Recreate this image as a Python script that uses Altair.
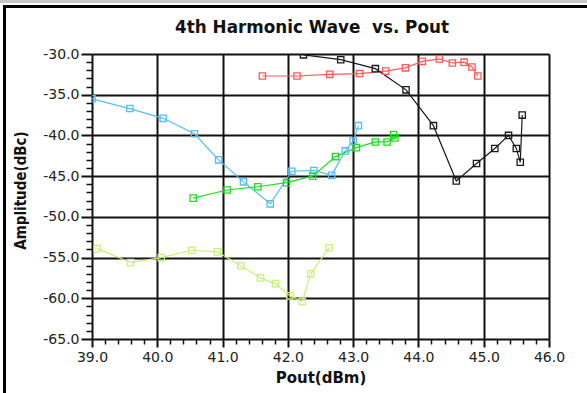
import altair as alt
import pandas as pd

# ---- data ----
series_names = ["blue", "green", "yellow", "red", "black"]
series_colors = ["#55BDF2", "#1FDD1F", "#C8F07A", "#FF5A5A", "#1A1A1A"]

blue_x = [39.0, 39.58, 40.09, 40.57, 40.94, 41.32, 41.73, 42.06, 42.40, 42.67, 42.88, 43.00, 43.08]
blue_y = [-35.5, -36.7, -37.9, -39.8, -43.0, -45.7, -48.4, -44.4, -44.3, -44.9, -41.9, -40.7, -38.8]

green_x = [40.55, 41.07, 41.54, 41.98, 42.38, 42.73, 43.05, 43.34, 43.52, 43.64, 43.62]
green_y = [-47.7, -46.7, -46.3, -45.8, -45.0, -42.6, -41.5, -40.8, -40.8, -40.3, -39.9]

yellow_x = [39.08, 39.59, 40.06, 40.53, 40.92, 41.28, 41.58, 41.81, 42.03, 42.22, 42.35, 42.63]
yellow_y = [-53.9, -55.6, -55.0, -54.1, -54.3, -56.0, -57.5, -58.2, -59.7, -60.4, -57.0, -53.8]

red_x = [41.61, 42.14, 42.64, 43.10, 43.50, 43.80, 44.06, 44.32, 44.52, 44.70, 44.82, 44.91]
red_y = [-32.7, -32.7, -32.5, -32.4, -32.1, -31.7, -30.9, -30.6, -31.1, -31.0, -31.6, -32.7]

black_x = [42.24, 42.81, 43.34, 43.81, 44.23, 44.58, 44.89, 45.17, 45.38, 45.50, 45.56, 45.59]
black_y = [-30.1, -30.7, -31.8, -34.4, -38.8, -45.6, -43.45, -41.6, -40.0, -41.6, -43.3, -37.5]

x_major = [39, 40, 41, 42, 43, 44, 45, 46]
x_minor = [39.2, 39.4, 39.6, 39.8, 40.2, 40.4, 40.6, 40.8, 41.2, 41.4, 41.6, 41.8,
           42.2, 42.4, 42.6, 42.8, 43.2, 43.4, 43.6, 43.8, 44.2, 44.4, 44.6, 44.8,
           45.2, 45.4, 45.6, 45.8]
y_major = [-30, -35, -40, -45, -50, -55, -60, -65]
y_minor = [-31, -32, -33, -34, -36, -37, -38, -39, -41, -42, -43, -44, -46, -47, -48, -49,
           -51, -52, -53, -54, -56, -57, -58, -59, -61, -62, -63, -64]

chart_title = ["4th Harmonic Wave\u00a0 vs. Pout"]

rows = []
for name, xs, ys in zip(series_names,
                        [blue_x, green_x, yellow_x, red_x, black_x],
                        [blue_y, green_y, yellow_y, red_y, black_y]):
    for i, (xv, yv) in enumerate(zip(xs, ys)):
        rows.append({"series": name, "pout": xv, "amp": yv, "idx": i})
df = pd.DataFrame(rows)

W, H = 457, 285
FONT = "DejaVu Sans"
label_expr = "(datum.value < 0 ? '-' : '') + format(abs(datum.value), '.1f')"

xscale = alt.Scale(domain=[39, 46], nice=False, zero=False)
yscale = alt.Scale(domain=[-65, -30], nice=False, zero=False)
cscale = alt.Scale(domain=series_names, range=series_colors)

minor_x_axis = alt.Axis(values=x_minor, orient="bottom", labels=False, grid=False, domain=False,
                        tickSize=5, tickWidth=1.5, tickColor="#111", title=None)
minor_y_axis = alt.Axis(values=y_minor, orient="left", labels=False, grid=False, domain=False,
                        tickSize=6, tickWidth=1.5, tickColor="#111", title=None)

major_x_axis = alt.Axis(values=x_major, orient="bottom", grid=True, gridColor="#111", gridWidth=2,
                        gridOpacity=1, domain=False, tickSize=8, tickWidth=2, tickColor="#111",
                        labelExpr=label_expr, labelFont=FONT, labelFontSize=14, labelColor="#222",
                        labelPadding=3, labelFlush=False,
                        title="Pout(dBm)", titleFont=FONT, titleFontSize=15, titleFontWeight="bold",
                        titleColor="#111", titleBaseline="alphabetic", titleY=43, titleX=W / 2)
major_y_axis = alt.Axis(values=y_major, orient="left", grid=True, gridColor="#111", gridWidth=2,
                        gridOpacity=1, domain=False, tickSize=11, tickWidth=2, tickColor="#111",
                        labelExpr=label_expr, labelFont=FONT, labelFontSize=14, labelColor="#222",
                        labelPadding=2, labelFlush=False,
                        title="Amplitude(dBc)", titleFont="DejaVu Sans Condensed", titleFontSize=15,
                        titleFontWeight="bold", titleColor="#111", titleBaseline="alphabetic",
                        titleX=-67, titleY=136, titleAngle=-90)

lines = alt.Chart(df).mark_line(clip=True, strokeWidth=1.2).encode(
    x=alt.X("pout:Q", scale=xscale, axis=minor_x_axis),
    y=alt.Y("amp:Q", scale=yscale, axis=minor_y_axis),
    color=alt.Color("series:N", scale=cscale, legend=None),
    order=alt.Order("idx:Q"),
)

points = alt.Chart(df).mark_point(shape="square", filled=False, size=40, strokeWidth=1.3,
                                  opacity=1, clip=True).encode(
    x=alt.X("pout:Q", scale=xscale, axis=major_x_axis),
    y=alt.Y("amp:Q", scale=yscale, axis=major_y_axis),
    color=alt.Color("series:N", scale=cscale, legend=None),
)

dummy = pd.DataFrame({"a": [0]})
title_df = pd.DataFrame({"t": chart_title})
title_mark = alt.Chart(title_df).mark_text(font=FONT, fontSize=16.8, fontWeight="bold", color="#111",
                                           align="center", baseline="alphabetic").encode(
    text="t:N", x=alt.value(220), y=alt.value(-21.5))

frame_gray = alt.Chart(dummy).mark_rule(color="#c8c8c8", strokeWidth=3).encode(
    x=alt.value(-92), x2=alt.value(W + 38), y=alt.value(-52.5))
frame_top = alt.Chart(dummy).mark_rule(color="#000", strokeWidth=3).encode(
    x=alt.value(-89), x2=alt.value(W + 38), y=alt.value(-47.5))
frame_left = alt.Chart(dummy).mark_rule(color="#000", strokeWidth=3).encode(
    x=alt.value(-87.5), y=alt.value(-49), y2=alt.value(H + 54))

chart = alt.layer(frame_gray, frame_top, frame_left, title_mark, lines, points).resolve_axis(
    x="independent", y="independent"
).properties(
    width=W, height=H,
    padding={"left": 92, "top": 54, "right": 38, "bottom": 54},
    autosize=alt.AutoSizeParams(type="none"),
).configure_view(stroke="#111", strokeWidth=2).configure(background="white")

chart.save("out.html", embed_options={"renderer": "svg", "actions": False})
